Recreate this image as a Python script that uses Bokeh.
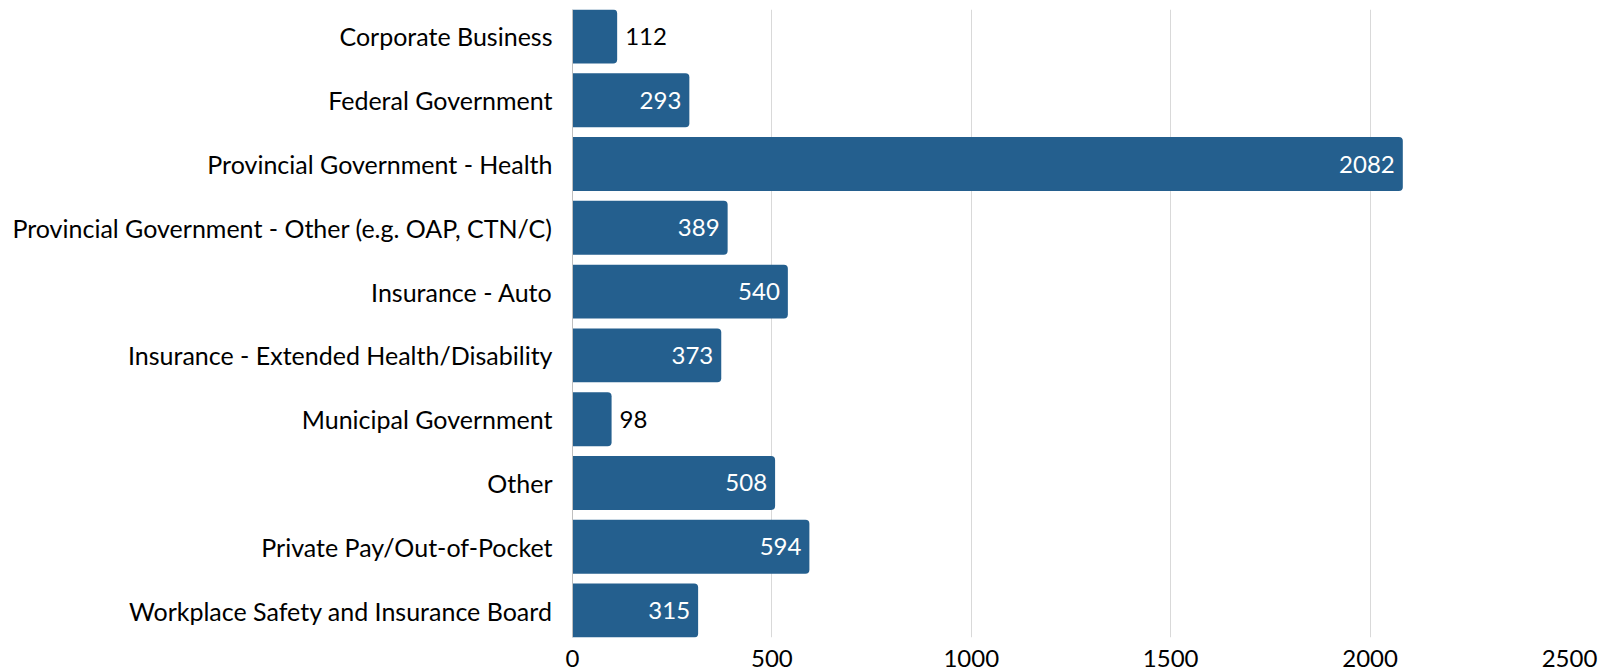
from bokeh.plotting import figure
from bokeh.models import ColumnDataSource, Range1d, FixedTicker, LabelSet
from bokeh.core.properties import value
from bokeh.embed import file_html
from bokeh.resources import INLINE

categories = [
    "Corporate Business",
    "Federal Government",
    "Provincial Government - Health",
    "Provincial Government - Other (e.g. OAP, CTN/C)",
    "Insurance - Auto",
    "Insurance - Extended Health/Disability",
    "Municipal Government",
    "Other",
    "Private Pay/Out-of-Pocket",
    "Workplace Safety and Insurance Board",
]
values = [112, 293, 2082, 389, 540, 373, 98, 508, 594, 315]
x_ticks = [0, 500, 1000, 1500, 2000, 2500]

FONT = "Lato"
BAR = "#245F8E"

ypos = list(range(len(categories)))
inside = [v >= 200 for v in values]
src = ColumnDataSource(dict(y=ypos, v=values))
src_in = ColumnDataSource(dict(y=[y for y, i in zip(ypos, inside) if i],
                               v=[v for v, i in zip(values, inside) if i],
                               lab=[str(v) for v, i in zip(values, inside) if i]))
src_out = ColumnDataSource(dict(y=[y for y, i in zip(ypos, inside) if not i],
                                v=[v for v, i in zip(values, inside) if not i],
                                lab=[str(v) for v, i in zip(values, inside) if not i]))

n = len(categories)
bh = 0.846
p = figure(width=1600, height=672, output_backend="svg", toolbar_location=None,
           x_range=Range1d(0, 2500), y_range=Range1d(n - 1 + bh / 2, -bh / 2),
           min_border_left=572, min_border_right=31, min_border_top=9, min_border_bottom=35)
p.outline_line_color = None
p.background_fill_color = "white"
p.border_fill_color = "white"

p.hbar(y="y", right="v", left=0, height=bh, source=src, fill_color=BAR, line_color=None,
       border_radius=(0, 4, 4, 0))

p.add_layout(LabelSet(x="v", y="y", text="lab", source=src_in, x_offset=-8, text_align="right",
                      text_baseline="middle", text_color="white", text_font=value(FONT),
                      text_font_size="24px"))
p.add_layout(LabelSet(x="v", y="y", text="lab", source=src_out, x_offset=8, text_align="left",
                      text_baseline="middle", text_color="black", text_font=value(FONT),
                      text_font_size="24px"))

p.xaxis.ticker = FixedTicker(ticks=x_ticks)
p.xaxis.axis_line_color = None
p.xaxis.major_tick_line_color = None
p.xaxis.minor_tick_line_color = None
p.xaxis.major_label_text_font = FONT
p.xaxis.major_label_text_font_size = "24px"
p.xaxis.major_label_text_color = "black"
p.xaxis.major_label_standoff = 6

p.yaxis.ticker = FixedTicker(ticks=ypos)
p.yaxis.major_label_overrides = {i: c for i, c in enumerate(categories)}
p.yaxis.axis_line_color = "#BFBFBF"
p.yaxis.major_tick_line_color = None
p.yaxis.minor_tick_line_color = None
p.yaxis.major_label_text_font = FONT
p.yaxis.major_label_text_font_size = "25px"
p.yaxis.major_label_text_color = "black"
p.yaxis.major_label_standoff = 14

p.xgrid.grid_line_color = "#D9D9D9"
p.xgrid.ticker = FixedTicker(ticks=x_ticks)
p.ygrid.grid_line_color = None

open("out.html", "w").write(file_html(p, INLINE))
